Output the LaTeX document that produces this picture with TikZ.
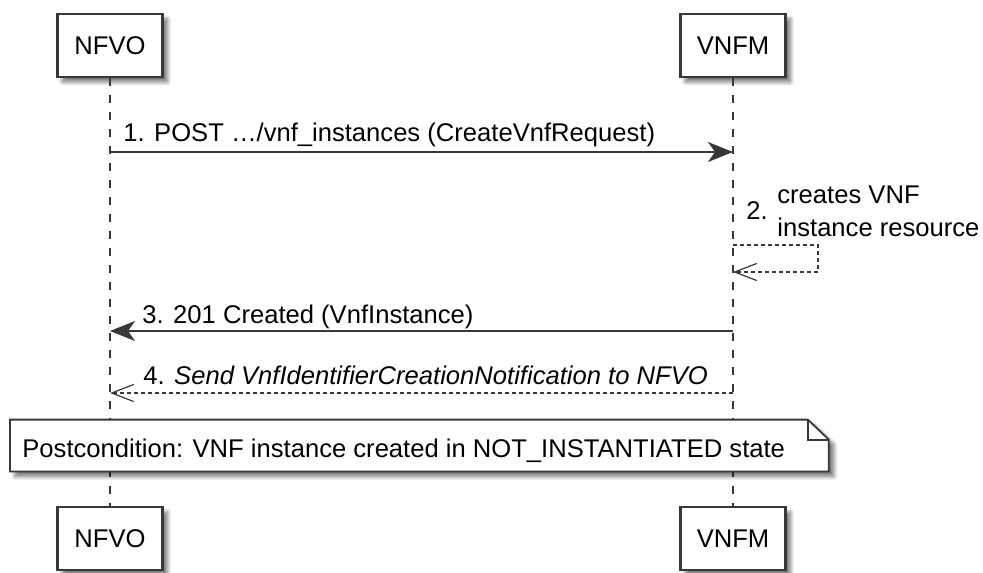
\documentclass[tikz,border=0pt]{standalone}
\usepackage{fontspec}
\setmainfont{Liberation Sans}
\usetikzlibrary{arrows.meta,positioning,shadows.blur}
\definecolor{umlline}{HTML}{383838}
\tikzset{umlshadow/.style={blur shadow={shadow xshift=2.5pt, shadow yshift=-2.5pt, shadow opacity=55, shadow blur radius=2pt, shadow blur steps=8}}}
\tikzstyle{actor} = [rectangle, draw=umlline, line width=1.2pt, fill=white, minimum width=52.5pt, minimum height=31.5pt, font=\fontsize{12.8}{15}\selectfont, umlshadow]
\tikzstyle{lifeline} = [draw=umlline, line width=0.7pt, dash pattern=on 4pt off 4.5pt]
\tikzstyle{call} = [draw=umlline, line width=0.9pt, -{Stealth[length=12.5pt, width=10pt, inset=3.5pt]}]
\tikzstyle{reply} = [draw=umlline, line width=0.6pt, dash pattern=on 2pt off 1.5pt, -{Straight Barb[length=11pt, width=8.5pt]}]
\tikzstyle{msg} = [anchor=base west, inner sep=0pt, font=\fontsize{12.8}{16.5}\selectfont]

\begin{document}
\begin{tikzpicture}[x=0.5pt,y=-0.5pt,node distance=311.5pt]
  \useasboundingbox (0,0) rectangle (983,572);
  \node[actor] (NFVO) at (110,45.5) {NFVO};
  \node[actor] (VNFM) [right of=NFVO] {VNFM};
  \node[actor] (NFVOb) [below of=NFVO, node distance=246.5pt] {NFVO};
  \node[actor] (VNFMb) [below of=VNFM, node distance=246.5pt] {VNFM};

  % lifelines
  \path[lifeline] (NFVO.south) -- (NFVOb.north);
  \path[lifeline] (VNFM.south) -- (VNFMb.north);

  % message end points
  \coordinate (m1a) at (NFVO |- 0,152);
  \coordinate (m1b) at (VNFM |- 0,152);
  \coordinate (m2a) at (VNFM |- 0,245);
  \coordinate (m2b) at (VNFM |- 0,272);
  \coordinate (m3a) at (VNFM |- 0,331);
  \coordinate (m3b) at (NFVO |- 0,331);
  \coordinate (m4a) at (VNFM |- 0,393);
  \coordinate (m4b) at (NFVO |- 0,393);

  \path[call] (m1a) -- (m1b);
  \node[msg] (l1) at (123,142) {1. POST …/vnf\_instances (CreateVnfRequest)};
  \path[reply] (m2a) -- ++(85,0) |- (m2b);
  \node[msg] (l2) at (746,220) {2.};
  \node[msg, anchor=north west, align=left] (l2t) at (777,185) {creates VNF\\instance resource};
  \path[call] (m3a) -- (m3b);
  \node[msg] (l3) at (142,323) {3. 201 Created (VnfInstance)};
  \path[reply] (m4a) -- (m4b);
  \node[msg] (l4) at (143,384) {4. \textit{Send VnfIdentifierCreationNotification to NFVO}};

  % postcondition note
  \node[msg, anchor=west, minimum width=409pt, minimum height=25.5pt, inner xsep=6pt, text width=397pt, align=left] (post) at (10,445.5) {};
  \draw[umlline, line width=0.9pt, fill=white, umlshadow]
    (post.south west) -- (post.north west) -- ([xshift=-10.5pt]post.north east)
    -- ([yshift=-10pt]post.north east) -- (post.south east) -- cycle;
  \draw[umlline, line width=0.9pt] ([xshift=-10.5pt]post.north east) |- ([yshift=-10pt]post.north east);
  \node[msg] (posttext) at (22,457) {Postcondition: VNF instance created in NOT\_INSTANTIATED state};
\end{tikzpicture}
\end{document}
